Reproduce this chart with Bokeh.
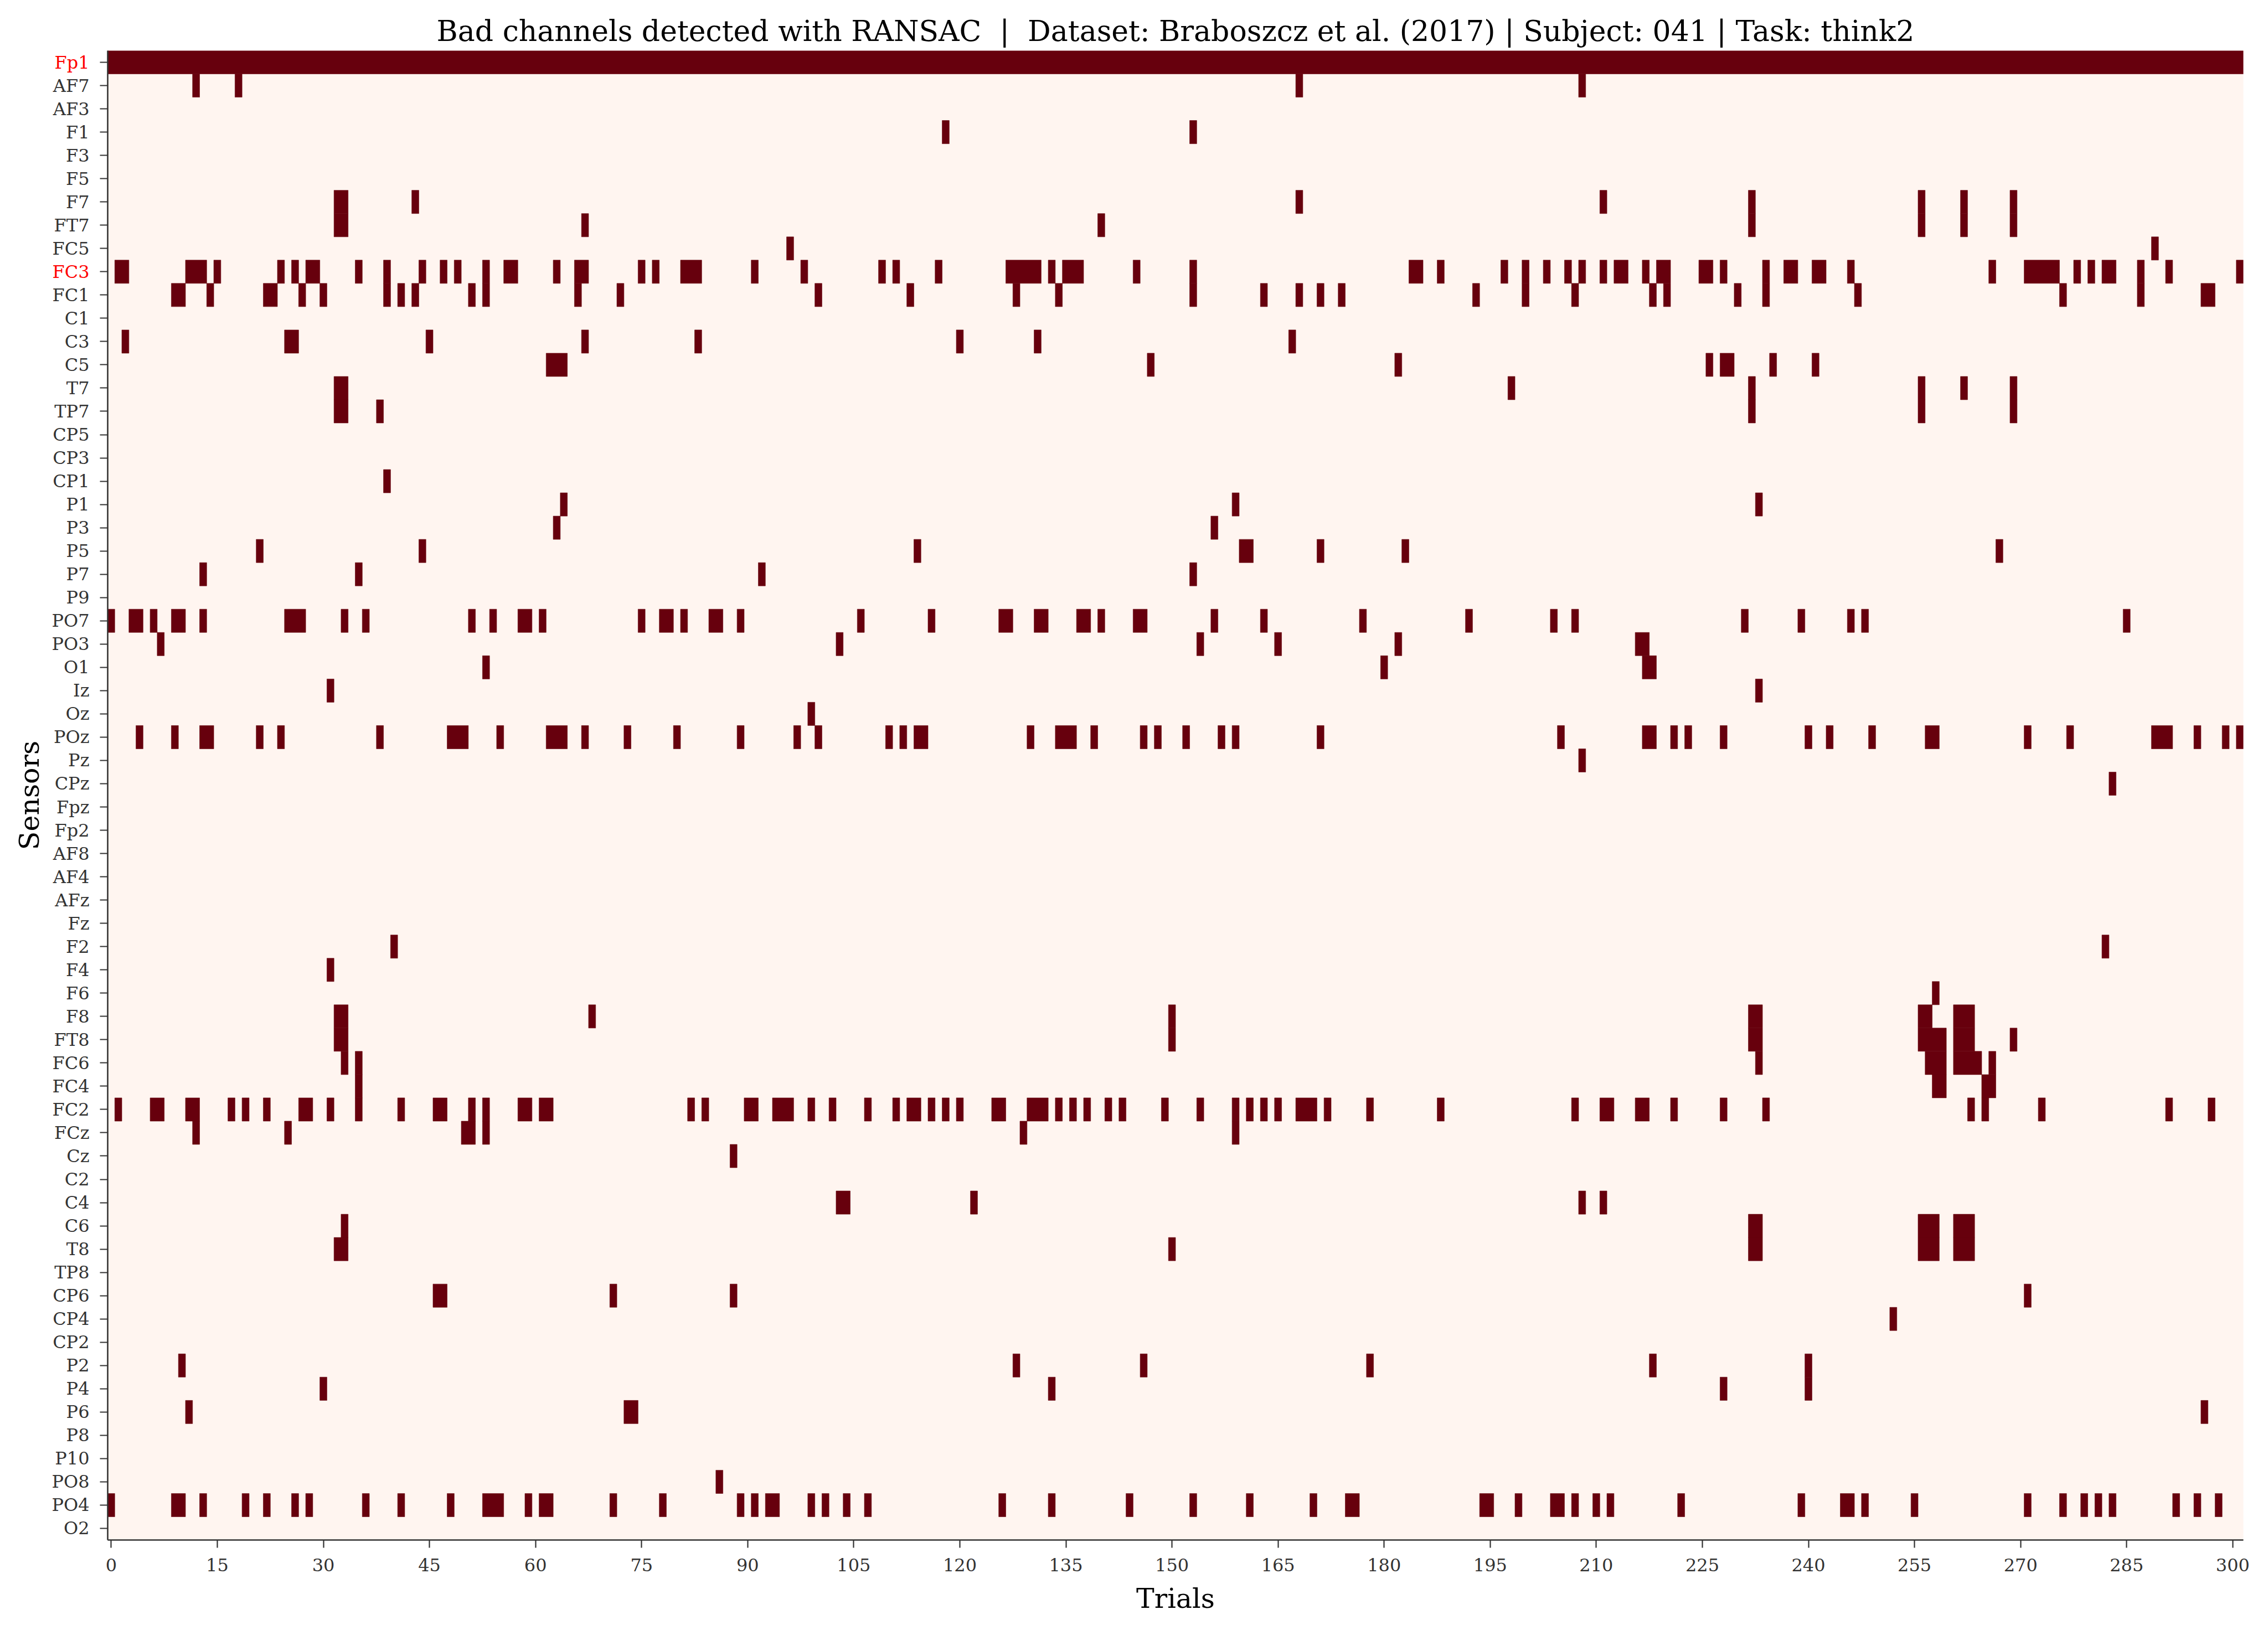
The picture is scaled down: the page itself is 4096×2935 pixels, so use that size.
import math
from bokeh.plotting import figure
from bokeh.layouts import row
from bokeh.models import Range1d, FixedTicker, ColumnDataSource
from bokeh.core.properties import value
from bokeh.embed import file_html
from bokeh.resources import INLINE

channels = ["Fp1", "AF7", "AF3", "F1", "F3", "F5", "F7", "FT7", "FC5", "FC3",
            "FC1", "C1", "C3", "C5", "T7", "TP7", "CP5", "CP3", "CP1", "P1",
            "P3", "P5", "P7", "P9", "PO7", "PO3", "O1", "Iz", "Oz", "POz",
            "Pz", "CPz", "Fpz", "Fp2", "AF8", "AF4", "AFz", "Fz", "F2", "F4",
            "F6", "F8", "FT8", "FC6", "FC4", "FC2", "FCz", "Cz", "C2", "C4",
            "C6", "T8", "TP8", "CP6", "CP4", "CP2", "P2", "P4", "P6", "P8",
            "P10", "PO8", "PO4", "O2"]
highlighted = ["Fp1", "FC3"]
n_trials = 302
x_ticks = list(range(0, 301, 15))

# bad trials per channel: single trial index or (first, last) inclusive run
bad_trials = [
    [(0, 301)],                                                     # Fp1
    [12, 18, 168, 208],                                             # AF7
    [],                                                             # AF3
    [118, 153],                                                     # F1
    [],                                                             # F3
    [],                                                             # F5
    [(32, 33), 43, 168, 211, 232, 256, 262, 269],                   # F7
    [(32, 33), 67, 140, 232, 256, 262, 269],                        # FT7
    [96, 289],                                                      # FC5
    [(1, 2), (11, 13), 15, 24, 26, (28, 29), 35, 39, 44, 47, 49, 53, (56, 57),
     63, (66, 67), 75, 77, (81, 83), 91, 98, 109, 111, 117, (127, 131), 133,
     (135, 137), 145, 153, (184, 185), 188, 197, 200, 203, 206, 208, 211,
     (213, 214), 217, (219, 220), (225, 226), 228, 234, (237, 238), (241, 242),
     246, 266, (271, 275), 278, 280, (282, 283), 287, 291, 301],     # FC3
    [(9, 10), 14, (22, 23), 27, 30, 39, 41, 43, 51, 53, 66, 72, 100, 113, 128,
     134, 153, 163, 168, 171, 174, 193, 200, 207, 218, 220, 230, 234, 247,
     276, 287, (296, 297)],                                         # FC1
    [],                                                             # C1
    [2, (25, 26), 45, 67, 83, 120, 131, 167],                       # C3
    [(62, 64), 147, 182, 226, (228, 229), 235, 241],                # C5
    [(32, 33), 198, 232, 256, 262, 269],                            # T7
    [(32, 33), 38, 232, 256, 269],                                  # TP7
    [],                                                             # CP5
    [],                                                             # CP3
    [39],                                                           # CP1
    [64, 159, 233],                                                 # P1
    [63, 156],                                                      # P3
    [21, 44, 114, (160, 161), 171, 183, 267],                       # P5
    [13, 35, 92, 153],                                              # P7
    [],                                                             # P9
    [0, (3, 4), 6, (9, 10), 13, (25, 27), 33, 36, 51, 54, (58, 59), 61, 75,
     (78, 79), 81, (85, 86), 89, 106, 116, (126, 127), (131, 132), (137, 138),
     140, (145, 146), 156, 163, 177, 192, 204, 207, 231, 239, 246, 248, 285],  # PO7
    [7, 103, 154, 165, 182, (216, 217)],                            # PO3
    [53, 180, (217, 218)],                                          # O1
    [31, 233],                                                      # Iz
    [99],                                                           # Oz
    [4, 9, (13, 14), 21, 24, 38, (48, 50), 55, (62, 64), 67, 73, 80, 89, 97,
     100, 110, 112, (114, 115), 130, (134, 136), 139, 146, 148, 152, 157, 159,
     171, 205, (217, 218), 221, 223, 228, 240, 243, 249, (257, 258), 271, 277,
     (289, 291), 295, 299, 301],                                    # POz
    [208],                                                          # Pz
    [283],                                                          # CPz
    [], [], [], [], [], [],                                         # Fpz Fp2 AF8 AF4 AFz Fz
    [40, 282],                                                      # F2
    [31],                                                           # F4
    [258],                                                          # F6
    [(32, 33), 68, 150, (232, 233), (256, 257), (261, 263)],        # F8
    [(32, 33), 150, (232, 233), (256, 259), (261, 263), 269],       # FT8
    [33, 35, 233, (257, 259), (261, 264), 266],                     # FC6
    [35, (258, 259), (265, 266)],                                   # FC4
    [1, (6, 7), (11, 12), 17, 19, 22, (27, 28), 31, 35, 41, (46, 47), 51, 53,
     (58, 59), (61, 62), 82, 84, (90, 91), (94, 96), 99, 102, 107, 111,
     (113, 114), 116, 118, 120, (125, 126), (130, 132), 134, 136, 138, 141,
     143, 149, 154, 159, 161, 163, 165, (168, 170), 172, 178, 188, 207,
     (211, 212), (216, 217), 221, 228, 234, 263, 265, 273, 291, 297],  # FC2
    [12, 25, (50, 51), 53, 129, 159],                               # FCz
    [88],                                                           # Cz
    [],                                                             # C2
    [(103, 104), 122, 208, 211],                                    # C4
    [33, (232, 233), (256, 258), (261, 263)],                       # C6
    [(32, 33), 150, (232, 233), (256, 258), (261, 263)],            # T8
    [],                                                             # TP8
    [(46, 47), 71, 88, 271],                                        # CP6
    [252],                                                          # CP4
    [],                                                             # CP2
    [10, 128, 146, 178, 218, 240],                                  # P2
    [30, 133, 228, 240],                                            # P4
    [11, (73, 74), 296],                                            # P6
    [],                                                             # P8
    [],                                                             # P10
    [86],                                                           # PO8
    [0, (9, 10), 13, 19, 22, 26, 28, 36, 41, 48, (53, 55), 59, (61, 62), 71,
     78, 89, 91, (93, 94), 99, 101, 104, 107, 126, 133, 144, 153, 161, 170,
     (175, 176), (194, 195), 199, (204, 205), 207, 210, 212, 222, 239,
     (245, 246), 248, 255, 271, 276, 279, 281, 283, 292, 295, 298],  # PO4
    [],                                                             # O2
]

GOOD = "#fff5f0"
BAD = "#67000d"
FONT = "DejaVu Serif"
TICK_COLOR = "#333333"

W, H = 4096, 2935
LEFT_W = 164          # width of the label column figure
MAIN_BORDER_L = 30    # frame starts at LEFT_W + MAIN_BORDER_L
BORDER_T, BORDER_B = 91, 154

left, right, bottom, top = [], [], [], []
for r_i, runs in enumerate(bad_trials):
    for r in runs:
        a, b = (r, r) if isinstance(r, int) else r
        left.append(a - 0.5)
        right.append(b + 0.5)
        bottom.append(r_i + 0.5)
        top.append(r_i - 0.5)
src = ColumnDataSource(dict(left=left, right=right, bottom=bottom, top=top))

y_range = Range1d(len(channels) - 0.5, -0.5)

p = figure(width=W - LEFT_W, height=H, output_backend="svg", toolbar_location=None,
           x_range=Range1d(-0.5, n_trials - 0.5), y_range=y_range,
           min_border_left=MAIN_BORDER_L, min_border_right=45,
           min_border_top=BORDER_T, min_border_bottom=BORDER_B)
p.background_fill_color = GOOD
p.border_fill_color = "white"
p.outline_line_color = None
p.xgrid.visible = False
p.ygrid.visible = False

p.quad(left="left", right="right", bottom="bottom", top="top", source=src,
       fill_color=BAD, line_color=BAD, line_width=0.6)

p.title.text = ("Bad channels detected with RANSAC \u00a0|\u00a0 Dataset: Braboszcz et al. (2017)"
                " | Subject: 041 | Task: think2")
p.title.align = "center"
p.title.text_font = FONT
p.title.text_font_style = "normal"
p.title.text_font_size = "52px"
p.title.text_color = "black"
p.title.standoff = 12

for ax in (p.xaxis[0], p.yaxis[0]):
    ax.axis_line_color = TICK_COLOR
    ax.axis_line_width = 2.6
    ax.major_tick_line_color = TICK_COLOR
    ax.major_tick_line_width = 2.2
    ax.major_tick_out = 14
    ax.major_tick_in = 0
    ax.minor_tick_line_color = None
    ax.major_label_text_font = FONT
    ax.major_label_text_font_size = "32px"
    ax.major_label_text_color = TICK_COLOR
    ax.major_label_standoff = 19
    ax.axis_label_text_font = FONT
    ax.axis_label_text_font_style = "normal"
    ax.axis_label_text_font_size = "49px"
    ax.axis_label_text_color = "black"

p.xaxis.ticker = FixedTicker(ticks=x_ticks)
p.xaxis.axis_label = "Trials"
p.xaxis.axis_label_standoff = 18

# y axis: ticks only; the sensor names are drawn in the label column
p.yaxis.ticker = FixedTicker(ticks=list(range(len(channels))))
p.yaxis.major_label_overrides = {i: "" for i in range(len(channels))}
p.yaxis.major_label_standoff = 0
p.yaxis.major_label_text_font_size = "1px"

# label column, sharing the y range so rows line up
lab = figure(width=LEFT_W, height=H, output_backend="svg", toolbar_location=None,
             x_range=Range1d(0, LEFT_W), y_range=y_range,
             min_border_left=0, min_border_right=0,
             min_border_top=BORDER_T, min_border_bottom=BORDER_B)
lab.axis.visible = False
lab.grid.visible = False
lab.outline_line_color = None
lab.background_fill_color = "white"
lab.border_fill_color = "white"

label_src = ColumnDataSource(dict(
    x=[LEFT_W + MAIN_BORDER_L - 33] * len(channels),
    y=list(range(len(channels))),
    text=channels,
    color=["red" if c in highlighted else TICK_COLOR for c in channels],
))
lab.text(x="x", y="y", text="text", text_color="color", source=label_src,
         text_align="right", text_baseline="middle",
         text_font=value(FONT), text_font_size=value("32px"))

lab.text(x=[53], y=[(len(channels) - 1) / 2], text=["Sensors"], angle=math.pi / 2,
         text_align="center", text_baseline="middle", text_color="black",
         text_font=value(FONT), text_font_size=value("49px"))

layout = row(lab, p, spacing=0)
open("out.html", "w").write(file_html(layout, INLINE))
